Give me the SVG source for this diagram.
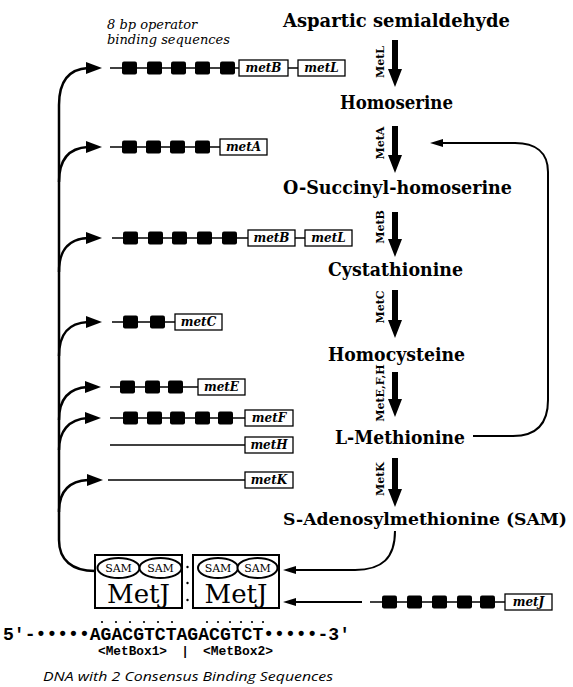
<svg xmlns="http://www.w3.org/2000/svg" width="573" height="687" viewBox="0 0 573 687">
<style>
.met{font-family:"DejaVu Serif","Liberation Serif",serif;font-weight:bold;font-size:18px;fill:#000}
.met17{font-size:17px}
.enz{font-family:"DejaVu Serif","Liberation Serif",serif;font-weight:bold;font-size:11px;fill:#000}
.gene{font-family:"DejaVu Serif","Liberation Serif",serif;font-style:italic;font-weight:bold;font-size:12px;fill:#000}
.note{font-family:"DejaVu Serif","Liberation Serif",serif;font-style:italic;font-size:13px;fill:#000}
.gbox{fill:#fff;stroke:#000;stroke-width:1.3}
.gl{stroke:#000;stroke-width:1.5;fill:none}
.sq{fill:#000}
.conn{stroke:#000;stroke-width:2.5;fill:none}
.thin{stroke:#000;stroke-width:2;fill:none}
.ah{fill:#000}
.sam{fill:#fff;stroke:#000;stroke-width:2}
.samt{font-family:"DejaVu Serif","Liberation Serif",serif;font-size:11px;fill:#000}
.metj{font-family:"DejaVu Serif","Liberation Serif",serif;font-size:26px;fill:#000}
.mono{font-family:"Liberation Mono","DejaVu Sans Mono",monospace;font-weight:bold;fill:#000}
</style>

<g id="connectors">
  <!-- regulatory branches from MetJ -->
  <path class="conn" d="M88,68 C70,69 59,80 59,105 L59,540 C59,560 72,571 95,571"/>
  <path class="conn" d="M59,182 C59,160 68,148 88,147"/>
  <path class="conn" d="M59,272 C59,250 68,239 88,238"/>
  <path class="conn" d="M59,356 C59,334 68,323 88,322"/>
  <path class="conn" d="M59,420 C59,400 68,388 88,387"/>
  <path class="conn" d="M59,450 C59,432 68,419 88,418"/>
  <path class="conn" d="M59,512 C59,492 68,481 88,480"/>
  <polygon class="ah" points="102,68 86,62 86,74"/>
  <polygon class="ah" points="102,147 86,141 86,153"/>
  <polygon class="ah" points="102,238 86,232 86,244"/>
  <polygon class="ah" points="102,322 86,316 86,328"/>
  <polygon class="ah" points="101,387 85,381 85,393"/>
  <polygon class="ah" points="101,418 85,412 85,424"/>
  <polygon class="ah" points="103,480 87,474 87,486"/>

  <!-- pathway arrows -->
  <path class="ah" d="M392,40 H398 V69 H402 L395,87 L388,69 H392 Z"/>
  <path class="ah" d="M392,126 H398 V155 H402 L395,173 L388,155 H392 Z"/>
  <path class="ah" d="M392,212 H398 V239 H402 L395,257 L388,239 H392 Z"/>
  <path class="ah" d="M392,290 H398 V320 H402 L395,338 L388,320 H392 Z"/>
  <path class="ah" d="M392,372 H398 V399 H402 L395,417 L388,399 H392 Z"/>
  <path class="ah" d="M392,458 H398 V489 H402 L395,507 L388,489 H392 Z"/>
  <text class="enz" x="384" y="62" text-anchor="middle" transform="rotate(-90 384 62)">MetL</text>
  <text class="enz" x="384" y="143" text-anchor="middle" transform="rotate(-90 384 143)">MetA</text>
  <text class="enz" x="384" y="227" text-anchor="middle" transform="rotate(-90 384 227)">MetB</text>
  <text class="enz" x="384" y="307" text-anchor="middle" transform="rotate(-90 384 307)">MetC</text>
  <text class="enz" x="384" y="393" text-anchor="middle" transform="rotate(-90 384 393)">MetE,F,H</text>
  <text class="enz" x="384" y="479" text-anchor="middle" transform="rotate(-90 384 479)">MetK</text>

  <!-- feedback from L-Methionine to MetA step -->
  <path class="thin" d="M473,436 H513 C535,436 548,425 548,400 V172 C548,152 535,143 515,143 H441"/>
  <polygon class="ah" points="430,143 443,139 443,147"/>

  <!-- SAM to MetJ -->
  <path class="thin" d="M395,531 C395,558 382,570 355,570 H293"/>
  <polygon class="ah" points="283,570 296,566 296,574"/>

  <!-- metJ product to MetJ -->
  <path class="thin" d="M362,602 H293"/>
  <polygon class="ah" points="283,602 296,598 296,606"/>
</g>

<g id="label-operator">
  <text class="note" x="107" y="29">8 bp operator</text>
  <text class="note" x="107" y="44">binding sequences</text>
</g>

<g id="met-aspartic"><text class="met" x="283" y="27" textLength="227" lengthAdjust="spacingAndGlyphs">Aspartic semialdehyde</text></g>
<g id="met-homoserine"><text class="met" x="340" y="109" textLength="113" lengthAdjust="spacingAndGlyphs">Homoserine</text></g>
<g id="met-osuccinyl"><text class="met" x="283" y="194" textLength="229" lengthAdjust="spacingAndGlyphs">O-Succinyl-homoserine</text></g>
<g id="met-cystathionine"><text class="met" x="328" y="276" textLength="135" lengthAdjust="spacingAndGlyphs">Cystathionine</text></g>
<g id="met-homocysteine"><text class="met" x="328" y="361" textLength="137" lengthAdjust="spacingAndGlyphs">Homocysteine</text></g>
<g id="met-lmethionine"><text class="met" x="335" y="444" textLength="130" lengthAdjust="spacingAndGlyphs">L-Methionine</text></g>
<g id="met-sam"><text class="met met17" x="283" y="525" textLength="284" lengthAdjust="spacingAndGlyphs">S-Adenosylmethionine (SAM)</text></g>

<g id="gene-metB-metL-1">
  <path class="gl" d="M110,68 H298"/>
  <rect class="sq" x="122" y="61.5" width="15" height="13" rx="2"/>
  <rect class="sq" x="147" y="61.5" width="15" height="13" rx="2"/>
  <rect class="sq" x="171" y="61.5" width="15" height="13" rx="2"/>
  <rect class="sq" x="195" y="61.5" width="15" height="13" rx="2"/>
  <rect class="sq" x="220" y="61.5" width="15" height="13" rx="2"/>
  <rect class="gbox" x="239" y="60" width="49" height="16"/>
  <text class="gene" x="263.5" y="72" text-anchor="middle">metB</text>
  <rect class="gbox" x="298" y="60" width="47" height="16"/>
  <text class="gene" x="321.5" y="72" text-anchor="middle">metL</text>
</g>

<g id="gene-metA">
  <path class="gl" d="M110,147 H220"/>
  <rect class="sq" x="122" y="140.5" width="15" height="13" rx="2"/>
  <rect class="sq" x="146" y="140.5" width="15" height="13" rx="2"/>
  <rect class="sq" x="170" y="140.5" width="15" height="13" rx="2"/>
  <rect class="sq" x="195" y="140.5" width="15" height="13" rx="2"/>
  <rect class="gbox" x="220" y="139" width="47" height="16"/>
  <text class="gene" x="243.5" y="151" text-anchor="middle">metA</text>
</g>

<g id="gene-metB-metL-2">
  <path class="gl" d="M112,238 H305"/>
  <rect class="sq" x="123" y="231.5" width="15" height="13" rx="2"/>
  <rect class="sq" x="148" y="231.5" width="15" height="13" rx="2"/>
  <rect class="sq" x="172" y="231.5" width="15" height="13" rx="2"/>
  <rect class="sq" x="197" y="231.5" width="15" height="13" rx="2"/>
  <rect class="sq" x="222" y="231.5" width="15" height="13" rx="2"/>
  <rect class="gbox" x="248" y="230" width="47" height="16"/>
  <text class="gene" x="271.5" y="242" text-anchor="middle">metB</text>
  <rect class="gbox" x="305" y="230" width="47" height="16"/>
  <text class="gene" x="328.5" y="242" text-anchor="middle">metL</text>
</g>

<g id="gene-metC">
  <path class="gl" d="M112,322 H175"/>
  <rect class="sq" x="123" y="315.5" width="15" height="13" rx="2"/>
  <rect class="sq" x="150" y="315.5" width="15" height="13" rx="2"/>
  <rect class="gbox" x="175" y="314" width="47" height="16"/>
  <text class="gene" x="198.5" y="326" text-anchor="middle">metC</text>
</g>

<g id="gene-metE">
  <path class="gl" d="M110,387 H198"/>
  <rect class="sq" x="120" y="380.5" width="15" height="13" rx="2"/>
  <rect class="sq" x="145" y="380.5" width="15" height="13" rx="2"/>
  <rect class="sq" x="168" y="380.5" width="15" height="13" rx="2"/>
  <rect class="gbox" x="198" y="379" width="47" height="16"/>
  <text class="gene" x="221.5" y="391" text-anchor="middle">metE</text>
</g>

<g id="gene-metF">
  <path class="gl" d="M110,418 H245"/>
  <rect class="sq" x="123" y="411.5" width="15" height="13" rx="2"/>
  <rect class="sq" x="147" y="411.5" width="15" height="13" rx="2"/>
  <rect class="sq" x="170" y="411.5" width="15" height="13" rx="2"/>
  <rect class="sq" x="195" y="411.5" width="15" height="13" rx="2"/>
  <rect class="sq" x="218" y="411.5" width="15" height="13" rx="2"/>
  <rect class="gbox" x="245" y="410" width="48" height="16"/>
  <text class="gene" x="269" y="422" text-anchor="middle">metF</text>
</g>

<g id="gene-metH">
  <path class="gl" d="M110,445 H245"/>
  <rect class="gbox" x="245" y="437" width="48" height="16"/>
  <text class="gene" x="269" y="449" text-anchor="middle">metH</text>
</g>

<g id="gene-metK">
  <path class="gl" d="M108,480 H245"/>
  <rect class="gbox" x="245" y="472" width="48" height="16"/>
  <text class="gene" x="269" y="484" text-anchor="middle">metK</text>
</g>

<g id="gene-metJ">
  <path class="gl" d="M370,602 H505"/>
  <rect class="sq" x="382" y="595.5" width="15" height="13" rx="2"/>
  <rect class="sq" x="407" y="595.5" width="15" height="13" rx="2"/>
  <rect class="sq" x="432" y="595.5" width="15" height="13" rx="2"/>
  <rect class="sq" x="457" y="595.5" width="15" height="13" rx="2"/>
  <rect class="sq" x="480" y="595.5" width="15" height="13" rx="2"/>
  <rect class="gbox" x="505" y="594" width="47" height="16"/>
  <text class="gene" x="528.5" y="606" text-anchor="middle">metJ</text>
</g>

<g id="metJ-1">
  <rect x="95" y="555" width="87" height="53" fill="#fff" stroke="#000" stroke-width="2"/>
  <ellipse class="sam" cx="118.5" cy="568" rx="21" ry="10"/>
  <ellipse class="sam" cx="160.5" cy="568" rx="21" ry="10"/>
  <text class="samt" x="118.5" y="572" text-anchor="middle">SAM</text>
  <text class="samt" x="160.5" y="572" text-anchor="middle">SAM</text>
  <text class="metj" x="138.5" y="603" text-anchor="middle">MetJ</text>
</g>

<g id="metJ-2">
  <rect x="193" y="555" width="86" height="53" fill="#fff" stroke="#000" stroke-width="2"/>
  <ellipse class="sam" cx="218" cy="568" rx="20" ry="10"/>
  <ellipse class="sam" cx="257.5" cy="568" rx="20" ry="10"/>
  <text class="samt" x="218" y="572" text-anchor="middle">SAM</text>
  <text class="samt" x="257.5" y="572" text-anchor="middle">SAM</text>
  <text class="metj" x="236" y="603" text-anchor="middle">MetJ</text>
</g>

<g id="dimer-dots" fill="#000">
  <circle cx="187.5" cy="567" r="1.2"/>
  <circle cx="187.5" cy="583" r="1.2"/>
  <circle cx="187.5" cy="600" r="1.2"/>
</g>

<g id="dna">
  <g fill="#000">
    <circle cx="102" cy="622" r="1.1"/><circle cx="116" cy="622" r="1.1"/><circle cx="130" cy="622" r="1.1"/>
    <circle cx="144" cy="622" r="1.1"/><circle cx="158" cy="622" r="1.1"/><circle cx="172" cy="622" r="1.1"/>
    <circle cx="207" cy="622" r="1.1"/><circle cx="218" cy="622" r="1.1"/><circle cx="230" cy="622" r="1.1"/>
    <circle cx="241" cy="622" r="1.1"/><circle cx="252" cy="622" r="1.1"/><circle cx="263" cy="622" r="1.1"/>
  </g>
  <text class="mono" x="3" y="640" font-size="18" textLength="347" lengthAdjust="spacingAndGlyphs">5'-•••••AGACGTCTAGACGTCT•••••-3'</text>
  <text class="mono" x="98" y="655" font-size="12" textLength="69" lengthAdjust="spacingAndGlyphs">&lt;MetBox1&gt;</text>
  <text class="mono" x="185" y="655" font-size="12" text-anchor="middle">|</text>
  <text class="mono" x="203" y="655" font-size="12" textLength="70" lengthAdjust="spacingAndGlyphs">&lt;MetBox2&gt;</text>
</g>

<g id="caption">
  <text x="43" y="681" font-family="'Open Sans','Liberation Sans',sans-serif" font-style="italic" font-size="13" textLength="290" lengthAdjust="spacingAndGlyphs">DNA with 2 Consensus Binding Sequences</text>
</g>
</svg>
